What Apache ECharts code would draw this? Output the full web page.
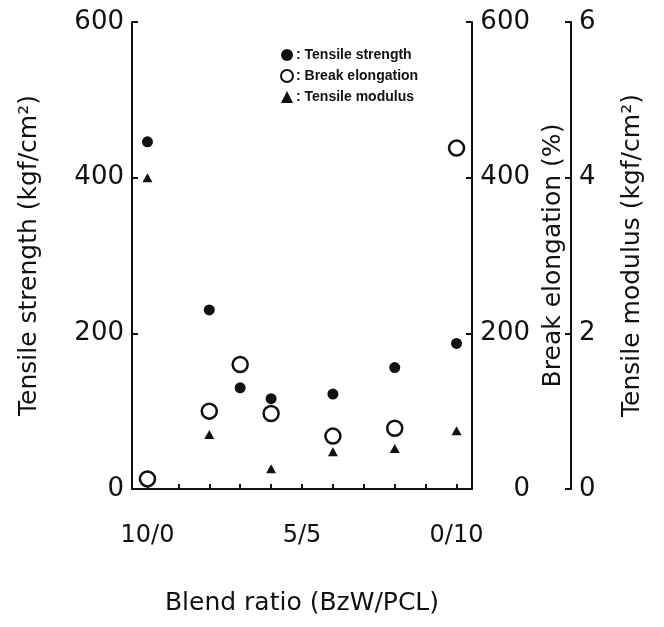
<!DOCTYPE html>
<html>
<head>
<meta charset="utf-8">
<script src="https://cdn.jsdelivr.net/npm/echarts@6/dist/echarts.min.js"></script>
<style>
html,body{margin:0;padding:0;background:#fff;}
#c{width:664px;height:627px;}
</style>
</head>
<body>
<div id="c"></div>
<script>
// Blend ratio categories (BzW/PCL)
var categories = ['10/0','9/1','8/2','7/3','6/4','5/5','4/6','3/7','2/8','1/9','0/10'];
var sampleRatios = ['10/0','8/2','7/3','6/4','4/6','2/8','0/10'];
var tensileStrength = [446, 230, 130, 116, 122, 156, 187];   // kgf/cm2
var breakElongation = [13, 100, 160, 97, 68, 78, 438];        // %
var tensileModulus = [4.0, 0.70, null, 0.26, 0.48, 0.52, 0.75]; // kgf/cm2
var shownXLabels = ['10/0','5/5','0/10'];

function pairs(vals){
  var out = [];
  for (var i = 0; i < sampleRatios.length; i++) {
    if (vals[i] !== null) out.push([sampleRatios[i], vals[i]]);
  }
  return out;
}

var ink = '#111';
var font = 'DejaVu Sans';
var chart = echarts.init(document.getElementById('c'), null, {renderer:'canvas'});
chart.setOption({
  backgroundColor: '#fff',
  animation: false,
  grid: {left: 132, right: 192, top: 22, bottom: 138, containLabel: false, outerBoundsMode: 'none'},
  legend: {
    orient: 'vertical', left: 275, top: 43, itemWidth: 12, itemHeight: 12, itemGap: 7,
    formatter: function(n){ return ': ' + n; },
    textStyle: {color: ink, fontFamily: 'Liberation Sans', fontWeight: 'bold', fontSize: 14, padding: [0,0,0,-2]},
    data: [
      {name: 'Tensile strength', icon: 'circle'},
      {name: 'Break elongation', icon: 'circle'},
      {name: 'Tensile modulus', icon: 'triangle'}
    ]
  },
  xAxis: {
    type: 'category', data: categories, boundaryGap: true,
    name: 'Blend ratio (BzW/PCL)', nameLocation: 'middle', nameGap: 102,
    nameTextStyle: {color: ink, fontFamily: font, fontSize: 25},
    axisLine: {lineStyle: {color: ink, width: 2}},
    axisTick: {show: true, inside: true, length: 5, alignWithLabel: true, interval: 0, lineStyle: {color: ink, width: 2}},
    axisLabel: {
      interval: function(i, v){ return shownXLabels.indexOf(v) >= 0; },
      margin: 35, color: ink, fontFamily: font, fontSize: 24
    },
    splitLine: {show: false}
  },
  yAxis: [
    {
      type: 'value', position: 'left', min: 0, max: 600, interval: 200,
      name: 'Tensile strength (kgf/cm²)', nameLocation: 'middle', nameGap: 90, nameRotate: 90,
      nameTextStyle: {color: ink, fontFamily: font, fontSize: 25},
      axisLine: {show: true, lineStyle: {color: ink, width: 2}},
      axisTick: {show: true, inside: true, length: 6, lineStyle: {color: ink, width: 2}},
      axisLabel: {color: ink, fontFamily: font, fontSize: 26, margin: 8},
      splitLine: {show: false}
    },
    {
      type: 'value', position: 'right', min: 0, max: 600, interval: 200,
      name: 'Break elongation (%)', nameLocation: 'middle', nameGap: 66, nameRotate: 90,
      nameTextStyle: {color: ink, fontFamily: font, fontSize: 25},
      axisLine: {show: true, lineStyle: {color: ink, width: 2}},
      axisTick: {show: true, inside: true, length: 6, lineStyle: {color: ink, width: 2}},
      axisLabel: {color: ink, fontFamily: font, fontSize: 26, margin: 58, align: 'right'},
      splitLine: {show: false}
    },
    {
      type: 'value', position: 'right', offset: 99, min: 0, max: 6, interval: 2,
      name: 'Tensile modulus (kgf/cm²)', nameLocation: 'middle', nameGap: 49, nameRotate: 90,
      nameTextStyle: {color: ink, fontFamily: font, fontSize: 25},
      axisLine: {show: true, lineStyle: {color: ink, width: 2}},
      axisTick: {show: true, inside: true, length: 6, lineStyle: {color: ink, width: 2}},
      axisLabel: {color: ink, fontFamily: font, fontSize: 26, margin: 8},
      splitLine: {show: false}
    }
  ],
  series: [
    {
      name: 'Tensile strength', type: 'scatter', yAxisIndex: 0, symbol: 'circle', symbolSize: 11,
      itemStyle: {color: ink, opacity: 1}, data: pairs(tensileStrength), z: 3
    },
    {
      name: 'Break elongation', type: 'scatter', yAxisIndex: 1, symbol: 'circle', symbolSize: 15,
      itemStyle: {color: '#fff', borderColor: ink, borderWidth: 2.5, opacity: 1}, data: pairs(breakElongation), z: 2
    },
    {
      name: 'Tensile modulus', type: 'scatter', yAxisIndex: 2, symbol: 'triangle', symbolSize: [10, 9],
      itemStyle: {color: ink, opacity: 1}, data: pairs(tensileModulus), z: 4
    }
  ]
});
</script>
</body>
</html>
